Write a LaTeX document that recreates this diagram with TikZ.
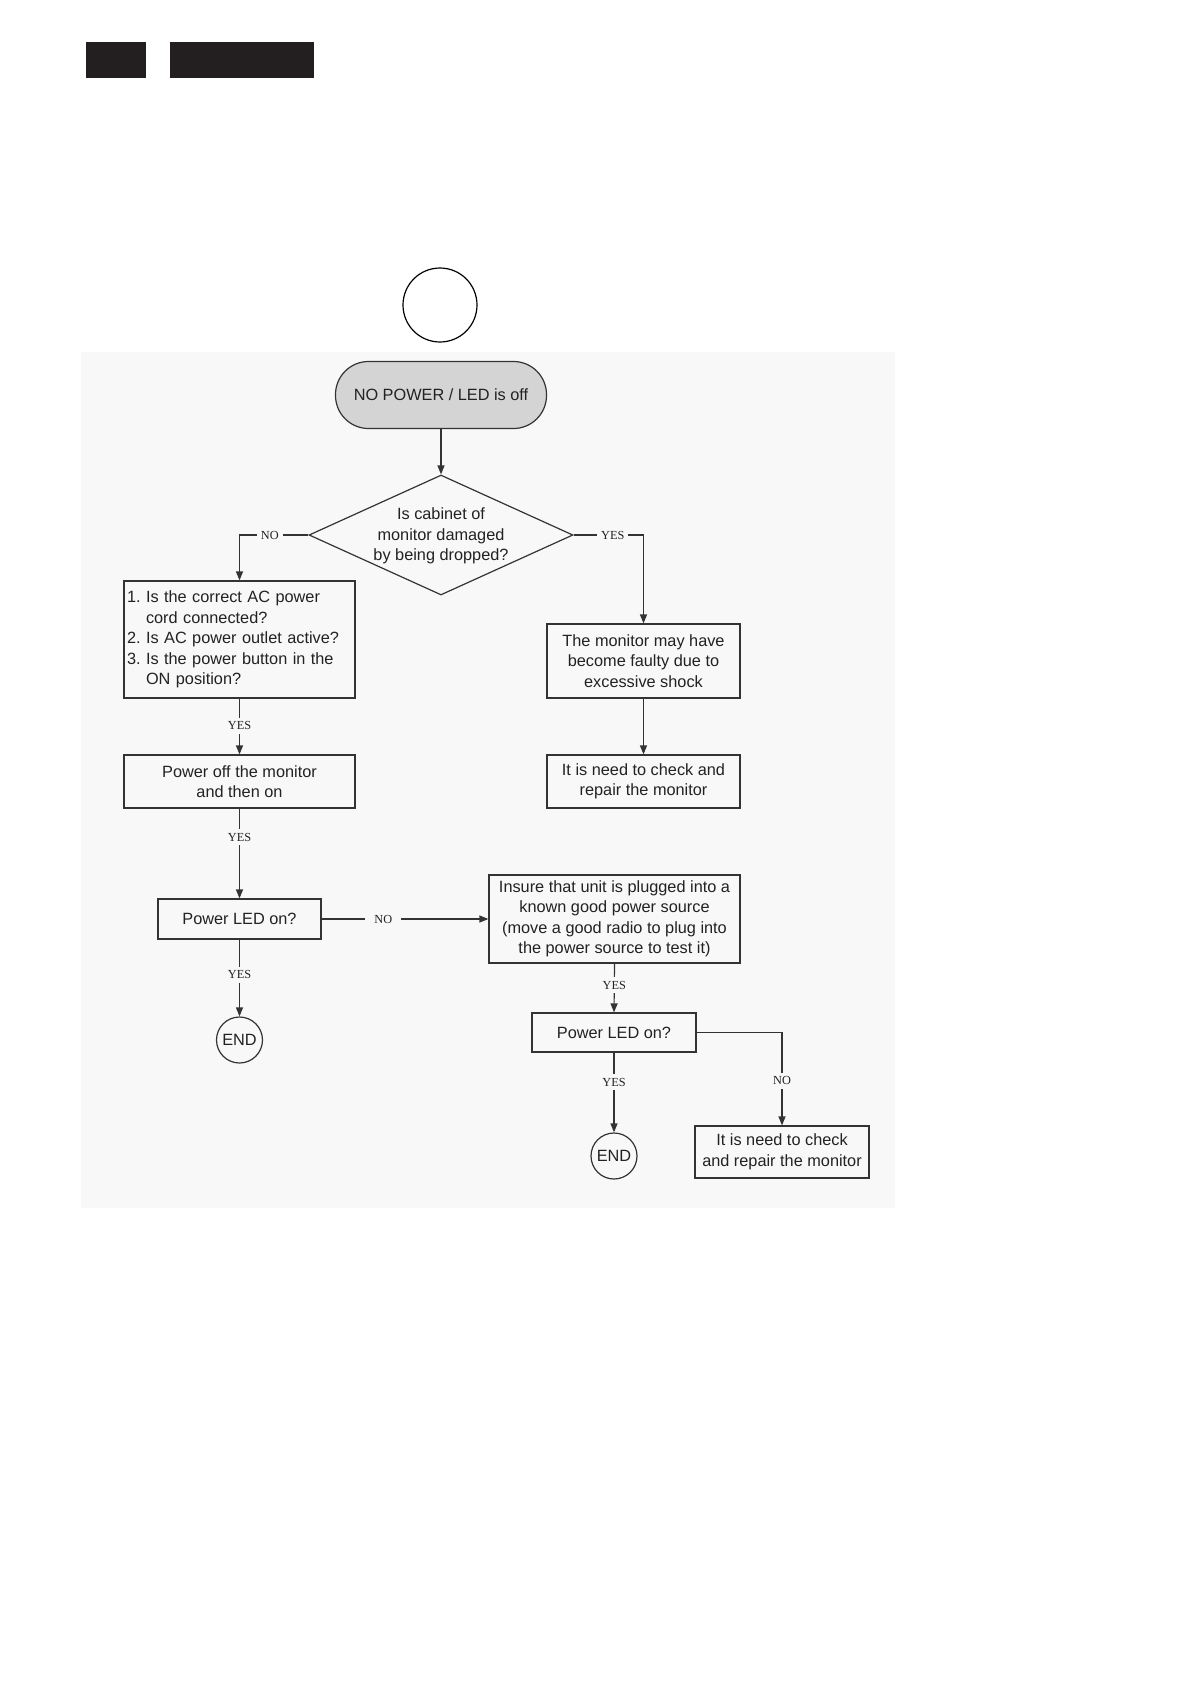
\documentclass[tikz,border=0pt]{standalone}
\usepackage{fontspec}
\setmainfont{Liberation Sans}
\newfontfamily\lblfont{Liberation Serif}
\usetikzlibrary{arrows.meta,shapes.geometric}
\definecolor{linec}{HTML}{333333}
\definecolor{txtc}{HTML}{222222}
\definecolor{bgc}{HTML}{F8F8F8}
\definecolor{startc}{HTML}{D4D4D4}
\definecolor{blk}{HTML}{231F20}
\tikzset{
  box/.style={draw=linec, line width=1.2pt, rectangle, inner sep=0pt, align=center,
    text=txtc, font=\fontsize{16.3}{20.5}\selectfont},
  terminal/.style={box, fill=startc, rounded corners=33pt},
  endc/.style={draw=linec, line width=1.2pt, circle, minimum size=46pt, inner sep=0pt,
    text=txtc, font=\fontsize{16.3}{20.5}\selectfont},
  conn/.style={draw=linec, line width=1.2pt, -{Triangle[length=9pt,width=7pt]}},
  lbl/.style={fill=bgc, inner xsep=4pt, inner ysep=4pt, text=txtc, font=\lblfont\fontsize{12.3}{14}\selectfont}
}
\begin{document}
\frenchspacing
\begin{tikzpicture}[x=1pt,y=-1pt]
\useasboundingbox (0,0) rectangle (1190,1684);
\fill[white] (0,0) rectangle (1190,1684);
% header blocks
\fill[blk] (86,42) rectangle (146,78);
\fill[blk] (170,42) rectangle (314,78);
% background panel
\fill[bgc] (81,352) rectangle (895,1208);
% top circle
\node[draw=black, line width=1.2pt, circle, minimum size=74pt, inner sep=0pt] (topc) at (440,305) {};

% nodes
\node[terminal, minimum width=211pt, minimum height=67pt] (start) at (441,395) {NO POWER / LED is off};
\node[draw=linec, line width=1.2pt, diamond, minimum width=264pt, minimum height=120pt, inner sep=0pt] (dia) at (441,535) {};
\node[align=center, text=txtc, font=\fontsize{16.3}{20.5}\selectfont] (diat) at (441,536) {Is cabinet of\\monitor damaged\\by being dropped?};

\node[box, minimum width=231pt, minimum height=117pt, text width=225pt, inner xsep=3pt, align=left] (checks) at (239.5,639.5)
 {\frenchspacing 1. Is the correct AC power\\\phantom{1. }cord connected?\\2. Is AC power outlet active?\\3. Is the power button in the\\\phantom{3. }ON position?};
\node[box, minimum width=231pt, minimum height=53pt] (poweroff) at (239.5,781.5) {Power off the monitor\\and then on};
\node[box, minimum width=163pt, minimum height=40pt] (led1) at (239.5,919) {Power LED on?};
\node[endc] (end1) at (239.5,1040) {END};

\node[box, minimum width=193pt, minimum height=74pt] (shock) at (643.5,661) {The monitor may have\\become faulty due to\\excessive shock};
\node[box, minimum width=193pt, minimum height=53pt] (repair1) at (643.5,781.5) {It is need to check and\\repair the monitor};

\node[box, minimum width=251pt, minimum height=88pt] (insure) at (614.5,919) {Insure that unit is plugged into a\\known good power source\\(move a good radio to plug into\\the power source to test it)};
\node[box, minimum width=164pt, minimum height=39pt] (led2) at (614,1032.5) {Power LED on?};
\node[endc] (end2) at (614,1156) {END};
\node[box, minimum width=174pt, minimum height=52pt] (repair2) at (782,1152) {It is need to check\\and repair the monitor};

% connectors
\draw[conn] (start.south) -- (dia.north);
\draw[conn] (dia.west) -| node[lbl, pos=0.28] {NO} (checks.north);
\draw[conn] (dia.east) -| node[lbl, pos=0.28] {YES} (shock.north);
\draw[conn] (shock.south) -- (repair1.north);
\draw[conn] (checks.south) -- node[lbl, pos=0.49] {YES} (poweroff.north);
\draw[conn] (poweroff.south) -- node[lbl, pos=0.32] {YES} (led1.north);
\draw[conn] (led1.south) -- node[lbl, pos=0.46] {YES} (end1.north);
\draw[conn] (led1.east) -- node[lbl, pos=0.37, inner xsep=9pt] {NO} (insure.west);
\draw[conn] (insure.south) -- node[lbl, pos=0.44] {YES} (led2.north);
\draw[conn] (led2.south) -- node[lbl, pos=0.37] {YES} (end2.north);
\draw[conn] (led2.east) -| node[lbl, pos=0.76] {NO} (repair2.north);
\end{tikzpicture}
\end{document}
